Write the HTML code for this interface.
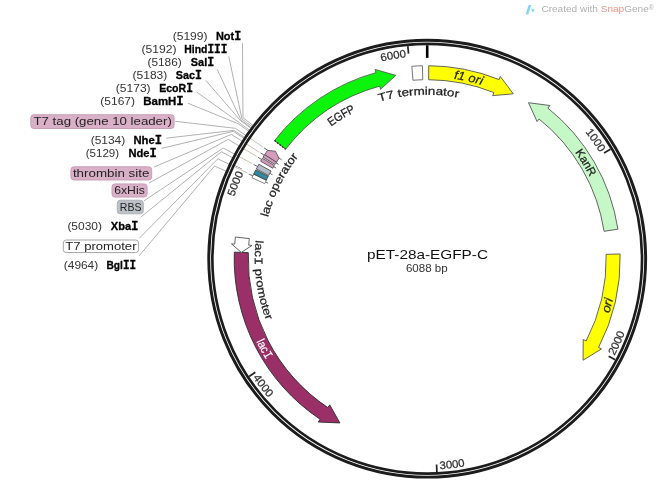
<!DOCTYPE html><html><head><meta charset="utf-8"><title>pET-28a-EGFP-C</title><style>html,body{margin:0;padding:0;background:#fff;width:660px;height:503px;overflow:hidden}svg{display:block;font-family:"Liberation Sans",sans-serif;will-change:transform}</style></head><body><svg width="660" height="503" viewBox="0 0 660 503" font-family="Liberation Sans, sans-serif"><defs><path id="tp1" d="M408.96,57.02 A202.5,202.5 0 0 1 610.98,343.74" fill="none"/><path id="tp2" d="M449.38,468.53 A211.0,211.0 0 0 0 597.83,134.57" fill="none"/><path id="tp3" d="M258.47,385.39 A211.0,211.0 0 0 0 621.28,341.48" fill="none"/><path id="tp4" d="M231.88,178.87 A211.0,211.0 0 0 0 455.72,467.76" fill="none"/><path id="tp5" d="M269.02,385.14 A202.5,202.5 0 0 1 396.79,58.50" fill="none"/><path id="tp6" d="M237.52,187.80 A202.5,202.5 0 0 1 583.45,129.88" fill="none"/><path id="tp7" d="M263.72,261.55 A163.5,163.5 0 0 1 506.47,115.70" fill="none"/><path id="tp8" d="M281.07,184.25 A164.0,164.0 0 0 1 564.74,169.38" fill="none"/><path id="tp9" d="M293.88,134.81 A182.0,182.0 0 0 1 601.15,205.18" fill="none"/><path id="tp10" d="M423.39,76.74 A182.0,182.0 0 0 1 586.69,346.38" fill="none"/><path id="tp11" d="M477.82,441.83 A190.0,190.0 0 0 0 560.49,123.30" fill="none"/><path id="tp12" d="M264.34,160.84 A190.0,190.0 0 0 0 423.88,448.67" fill="none"/><path id="tp13" d="M322.49,121.74 A172.4,172.4 0 0 0 360.95,417.86" fill="none"/><path id="tp14" d="M290.11,349.44 A164.4,164.4 0 0 1 417.16,94.61" fill="none"/></defs><rect width="660" height="503" fill="#fff"/><g stroke="#a8a8a8" stroke-width="0.9" fill="none"><line x1="242.50" y1="43.30" x2="242.97" y2="117.69"/><line x1="242.97" y1="117.69" x2="255.28" y2="127.11"/><line x1="228.75" y1="56.30" x2="241.96" y2="119.02"/><line x1="241.96" y1="119.02" x2="254.33" y2="128.36"/><line x1="217.20" y1="69.40" x2="241.10" y2="120.17"/><line x1="241.10" y1="120.17" x2="253.53" y2="129.43"/><line x1="205.80" y1="80.40" x2="240.67" y2="120.75"/><line x1="240.67" y1="120.75" x2="253.13" y2="129.97"/><line x1="196.40" y1="91.80" x2="239.26" y2="122.68"/><line x1="239.26" y1="122.68" x2="251.81" y2="131.77"/><line x1="187.90" y1="103.20" x2="238.42" y2="123.85"/><line x1="238.42" y1="123.85" x2="251.03" y2="132.86"/><line x1="166.10" y1="138.20" x2="233.93" y2="130.36"/><line x1="233.93" y1="130.36" x2="246.85" y2="138.93"/><line x1="161.40" y1="148.40" x2="233.27" y2="131.35"/><line x1="233.27" y1="131.35" x2="246.23" y2="139.86"/><line x1="140.60" y1="217.30" x2="221.30" y2="151.80"/><line x1="221.30" y1="151.80" x2="235.05" y2="158.94"/><line x1="139.10" y1="255.90" x2="214.50" y2="166.06"/><line x1="214.50" y1="166.06" x2="228.71" y2="172.25"/><line x1="175.30" y1="121.30" x2="235.32" y2="128.30"/><line x1="235.32" y1="128.30" x2="248.14" y2="137.01"/><line x1="154.00" y1="167.00" x2="231.32" y2="134.39"/><line x1="231.32" y1="134.39" x2="244.40" y2="142.69"/><line x1="149.00" y1="183.00" x2="228.23" y2="139.38"/><line x1="228.23" y1="139.38" x2="241.53" y2="147.36"/><line x1="144.00" y1="200.80" x2="223.31" y2="148.00"/><line x1="223.31" y1="148.00" x2="236.94" y2="155.40"/><line x1="139.50" y1="238.00" x2="217.80" y2="158.82"/><line x1="217.80" y1="158.82" x2="231.79" y2="165.49"/></g><line x1="610.46" y1="149.16" x2="604.02" y2="153.01" stroke="#222" stroke-width="1.7"/><line x1="615.24" y1="359.80" x2="608.64" y2="356.25" stroke="#222" stroke-width="1.7"/><line x1="436.89" y1="471.98" x2="436.55" y2="464.49" stroke="#222" stroke-width="1.7"/><line x1="249.10" y1="376.44" x2="255.36" y2="372.31" stroke="#222" stroke-width="1.7"/><line x1="234.76" y1="166.24" x2="241.52" y2="169.48" stroke="#222" stroke-width="1.7"/><line x1="407.84" y1="46.08" x2="408.52" y2="53.55" stroke="#222" stroke-width="1.7"/><line x1="427.20" y1="45.20" x2="427.20" y2="57.90" stroke="#000" stroke-width="2.6"/><text font-size="11" fill="#333" stroke="#333" stroke-width="0.25" font-weight="normal" font-style="normal" textLength="25.5" lengthAdjust="spacingAndGlyphs"><textPath href="#tp1" startOffset="50%" text-anchor="middle">1000</textPath></text><text font-size="11" fill="#333" stroke="#333" stroke-width="0.25" font-weight="normal" font-style="normal" textLength="25.5" lengthAdjust="spacingAndGlyphs"><textPath href="#tp2" startOffset="50%" text-anchor="middle">2000</textPath></text><text font-size="11" fill="#333" stroke="#333" stroke-width="0.25" font-weight="normal" font-style="normal" textLength="25.5" lengthAdjust="spacingAndGlyphs"><textPath href="#tp3" startOffset="50%" text-anchor="middle">3000</textPath></text><text font-size="11" fill="#333" stroke="#333" stroke-width="0.25" font-weight="normal" font-style="normal" textLength="25.5" lengthAdjust="spacingAndGlyphs"><textPath href="#tp4" startOffset="50%" text-anchor="middle">4000</textPath></text><text font-size="11" fill="#333" stroke="#333" stroke-width="0.25" font-weight="normal" font-style="normal" textLength="25.5" lengthAdjust="spacingAndGlyphs"><textPath href="#tp5" startOffset="50%" text-anchor="middle">5000</textPath></text><text font-size="11" fill="#333" stroke="#333" stroke-width="0.25" font-weight="normal" font-style="normal" textLength="25.5" lengthAdjust="spacingAndGlyphs"><textPath href="#tp6" startOffset="50%" text-anchor="middle">6000</textPath></text><g stroke="#ffffff" stroke-width="2.2" fill="none"><line x1="248.14" y1="137.01" x2="262.61" y2="146.85"/><line x1="244.40" y1="142.69" x2="259.18" y2="152.07"/><line x1="241.53" y1="147.36" x2="256.53" y2="156.36"/><line x1="236.94" y1="155.40" x2="252.32" y2="163.75"/><line x1="231.79" y1="165.49" x2="247.59" y2="173.03"/></g><g stroke="#c2bba6" stroke-width="0.9" fill="none"><line x1="248.14" y1="137.01" x2="262.61" y2="146.85"/><line x1="244.40" y1="142.69" x2="259.18" y2="152.07"/><line x1="241.53" y1="147.36" x2="256.53" y2="156.36"/><line x1="236.94" y1="155.40" x2="252.32" y2="163.75"/><line x1="231.79" y1="165.49" x2="247.59" y2="173.03"/></g><circle cx="427.2" cy="258.7" r="218.45" fill="none" stroke="#1c1c1c" stroke-width="2.9"/><circle cx="427.2" cy="258.7" r="214.85" fill="none" stroke="#1c1c1c" stroke-width="2.65"/><path d="M274.55,140.60 A193.0,193.0 0 0 1 375.95,72.63 L375.08,69.45 L395.86,75.36 L380.55,89.31 L379.67,86.13 A179.0,179.0 0 0 0 285.62,149.17 Z" fill="#0cf30c" stroke="#4d4d4d" stroke-width="0.8" stroke-linejoin="miter" /><line x1="274.55" y1="140.60" x2="285.62" y2="149.17" stroke="#222" stroke-width="1.3" stroke-dasharray="1.6,1.6"/><path d="M411.86,66.31 A193.0,193.0 0 0 1 422.42,65.76 L422.76,79.75 A179.0,179.0 0 0 0 412.97,80.27 Z" fill="#ffffff" stroke="#666" stroke-width="0.9"/><path d="M428.72,65.71 A193.0,193.0 0 0 1 499.10,79.59 L500.33,76.53 L513.29,93.82 L492.65,95.65 L493.88,92.58 A179.0,179.0 0 0 0 428.61,79.71 Z" fill="#ffff00" stroke="#555" stroke-width="0.9" stroke-linejoin="miter" /><path d="M617.93,229.17 A193.0,193.0 0 0 0 547.87,108.07 L549.93,105.50 L528.50,102.71 L537.05,121.58 L539.12,119.00 A179.0,179.0 0 0 1 604.09,231.32 Z" fill="#c6f7c6" stroke="#555" stroke-width="0.9" stroke-linejoin="miter" /><path d="M620.14,253.98 A193.0,193.0 0 0 1 598.59,347.43 L601.52,348.95 L583.07,360.19 L583.23,339.48 L586.16,341.00 A179.0,179.0 0 0 0 606.15,254.33 Z" fill="#ffff00" stroke="#555" stroke-width="0.9" stroke-linejoin="miter" /><path d="M234.31,252.17 A193.0,193.0 0 0 0 320.12,419.27 L318.29,422.01 L339.88,422.93 L329.72,404.88 L327.89,407.62 A179.0,179.0 0 0 1 248.30,252.64 Z" fill="#9b2f67" stroke="#2a2a2a" stroke-width="0.9" stroke-linejoin="miter" /><path d="M235.42,237.02 A193.0,193.0 0 0 0 234.75,244.09 L231.46,243.84 L241.31,252.40 L252.00,245.40 L248.71,245.15 A179.0,179.0 0 0 1 249.33,238.59 Z" fill="#ffffff" stroke="#555" stroke-width="0.9" stroke-linejoin="miter" /><line x1="257.82" y1="157.13" x2="276.26" y2="168.18" stroke="#444" stroke-width="0.8"/><line x1="260.45" y1="152.87" x2="278.60" y2="164.39" stroke="#444" stroke-width="0.8"/><line x1="263.85" y1="147.69" x2="281.63" y2="159.77" stroke="#444" stroke-width="0.8"/><line x1="253.63" y1="164.46" x2="272.53" y2="174.72" stroke="#444" stroke-width="0.8"/><line x1="248.79" y1="173.99" x2="268.21" y2="183.21" stroke="#444" stroke-width="0.8"/><path d="M252.00,177.75 A193.0,193.0 0 0 1 253.73,174.09 L266.32,180.23 A179.0,179.0 0 0 0 264.71,183.62 Z" fill="#ffffff" stroke="#777" stroke-width="0.9"/><path d="M253.73,174.09 A193.0,193.0 0 0 1 255.85,169.88 L268.28,176.32 A179.0,179.0 0 0 0 266.32,180.23 Z" fill="#2f8aa0" stroke="#444" stroke-width="0.9"/><path d="M256.32,168.99 A193.0,193.0 0 0 1 258.89,164.25 L271.10,171.10 A179.0,179.0 0 0 0 268.71,175.49 Z" fill="#b3bcc6" stroke="#555" stroke-width="0.9"/><path d="M260.65,161.18 A193.0,193.0 0 0 1 262.38,158.29 L274.33,165.57 A179.0,179.0 0 0 0 272.73,168.25 Z" fill="#d49bbd" stroke="#555" stroke-width="0.9"/><path d="M263.08,157.14 A193.0,193.0 0 0 1 264.70,154.58 L276.49,162.13 A179.0,179.0 0 0 0 274.99,164.51 Z" fill="#d49bbd" stroke="#555" stroke-width="0.9"/><path d="M264.70,154.58 A193.0,193.0 0 0 1 267.44,150.41 L275.40,151.22 L279.03,158.27 A179.0,179.0 0 0 0 276.49,162.13 Z" fill="#d49bbd" stroke="#555" stroke-width="0.9"/><text font-size="12" fill="#222" stroke="#222" stroke-width="0.25" font-weight="normal" font-style="normal" textLength="29" lengthAdjust="spacingAndGlyphs"><textPath href="#tp7" startOffset="50%" text-anchor="middle">EGFP</textPath></text><text font-size="11.2" fill="#222" stroke="#222" stroke-width="0.25" font-weight="normal" font-style="normal" textLength="80" lengthAdjust="spacingAndGlyphs"><textPath href="#tp8" startOffset="50%" text-anchor="middle">T7 terminator</textPath></text><text font-size="12" fill="#222" stroke="#222" stroke-width="0.25" font-weight="normal" font-style="italic" textLength="28.5" lengthAdjust="spacingAndGlyphs"><textPath href="#tp9" startOffset="50%" text-anchor="middle">f1 ori</textPath></text><text font-size="11.5" fill="#222" stroke="#222" stroke-width="0.25" font-weight="normal" font-style="normal" textLength="29" lengthAdjust="spacingAndGlyphs"><textPath href="#tp10" startOffset="50%" text-anchor="middle">KanR</textPath></text><text font-size="12" fill="#222" stroke="#222" stroke-width="0.25" font-weight="normal" font-style="italic" textLength="14.8" lengthAdjust="spacingAndGlyphs"><textPath href="#tp11" startOffset="50%" text-anchor="middle">ori</textPath></text><text font-size="12" fill="#ffffff" stroke="#ffffff" stroke-width="0.15" font-weight="normal" font-style="normal" textLength="21" lengthAdjust="spacingAndGlyphs"><textPath href="#tp12" startOffset="50%" text-anchor="middle">lac<tspan font-family="Liberation Mono" font-size="12.6">I</tspan></textPath></text><text font-size="11" fill="#222" stroke="#222" stroke-width="0.25" font-weight="normal" font-style="normal" textLength="81.8" lengthAdjust="spacingAndGlyphs"><textPath href="#tp13" startOffset="50%" text-anchor="middle">lac<tspan font-family="Liberation Mono" font-size="11.6">I</tspan> promoter</textPath></text><text font-size="11.4" fill="#222" stroke="#222" stroke-width="0.25" font-weight="normal" font-style="normal" textLength="68.3" lengthAdjust="spacingAndGlyphs"><textPath href="#tp14" startOffset="50%" text-anchor="middle">lac operator</textPath></text><text x="427.5" y="258.8" font-size="13.6" text-anchor="middle" fill="#111" textLength="121" lengthAdjust="spacingAndGlyphs">pET-28a-EGFP-C</text><text x="426.8" y="272.2" font-size="10" text-anchor="middle" fill="#333" textLength="41.8" lengthAdjust="spacingAndGlyphs">6088 bp</text><text x="172.7" y="40.2" font-size="10.2" fill="#333" textLength="34.80" lengthAdjust="spacingAndGlyphs">(5199)</text><text x="215.9" y="40.2" font-size="11.2" font-weight="bold" fill="#000" stroke="#000" stroke-width="0.3" textLength="25.30" lengthAdjust="spacingAndGlyphs">Not<tspan font-family="Liberation Mono" font-size="12.0">I</tspan></text><text x="141.5" y="53.0" font-size="10.2" fill="#333" textLength="35.00" lengthAdjust="spacingAndGlyphs">(5192)</text><text x="184.3" y="53.0" font-size="11.2" font-weight="bold" fill="#000" stroke="#000" stroke-width="0.3" textLength="43.20" lengthAdjust="spacingAndGlyphs">Hind<tspan font-family="Liberation Mono" font-size="12.0">I</tspan><tspan font-family="Liberation Mono" font-size="12.0">I</tspan><tspan font-family="Liberation Mono" font-size="12.0">I</tspan></text><text x="147.5" y="66.0" font-size="10.2" fill="#333" textLength="34.20" lengthAdjust="spacingAndGlyphs">(5186)</text><text x="190.8" y="66.0" font-size="11.2" font-weight="bold" fill="#000" stroke="#000" stroke-width="0.3" textLength="23.40" lengthAdjust="spacingAndGlyphs">Sal<tspan font-family="Liberation Mono" font-size="12.0">I</tspan></text><text x="132.5" y="78.8" font-size="10.2" fill="#333" textLength="34.80" lengthAdjust="spacingAndGlyphs">(5183)</text><text x="175.8" y="78.8" font-size="11.2" font-weight="bold" fill="#000" stroke="#000" stroke-width="0.3" textLength="26.20" lengthAdjust="spacingAndGlyphs">Sac<tspan font-family="Liberation Mono" font-size="12.0">I</tspan></text><text x="115.8" y="91.9" font-size="10.2" fill="#333" textLength="34.80" lengthAdjust="spacingAndGlyphs">(5173)</text><text x="159.2" y="91.9" font-size="11.2" font-weight="bold" fill="#000" stroke="#000" stroke-width="0.3" textLength="33.80" lengthAdjust="spacingAndGlyphs">EcoR<tspan font-family="Liberation Mono" font-size="12.0">I</tspan></text><text x="100.3" y="104.7" font-size="10.2" fill="#333" textLength="34.70" lengthAdjust="spacingAndGlyphs">(5167)</text><text x="143.3" y="104.7" font-size="11.2" font-weight="bold" fill="#000" stroke="#000" stroke-width="0.3" textLength="40.40" lengthAdjust="spacingAndGlyphs">BamH<tspan font-family="Liberation Mono" font-size="12.0">I</tspan></text><text x="90.7" y="144.3" font-size="10.2" fill="#333" textLength="34.50" lengthAdjust="spacingAndGlyphs">(5134)</text><text x="133.4" y="144.3" font-size="11.2" font-weight="bold" fill="#000" stroke="#000" stroke-width="0.3" textLength="28.60" lengthAdjust="spacingAndGlyphs">Nhe<tspan font-family="Liberation Mono" font-size="12.0">I</tspan></text><text x="85.7" y="156.6" font-size="10.2" fill="#333" textLength="33.40" lengthAdjust="spacingAndGlyphs">(5129)</text><text x="128.4" y="156.6" font-size="11.2" font-weight="bold" fill="#000" stroke="#000" stroke-width="0.3" textLength="28.20" lengthAdjust="spacingAndGlyphs">Nde<tspan font-family="Liberation Mono" font-size="12.0">I</tspan></text><text x="67.4" y="230.2" font-size="10.2" fill="#333" textLength="34.60" lengthAdjust="spacingAndGlyphs">(5030)</text><text x="110.8" y="230.2" font-size="11.2" font-weight="bold" fill="#000" stroke="#000" stroke-width="0.3" textLength="27.50" lengthAdjust="spacingAndGlyphs">Xba<tspan font-family="Liberation Mono" font-size="12.0">I</tspan></text><text x="63.8" y="268.8" font-size="10.2" fill="#333" textLength="34.40" lengthAdjust="spacingAndGlyphs">(4964)</text><text x="106.5" y="268.8" font-size="11.2" font-weight="bold" fill="#000" stroke="#000" stroke-width="0.3" textLength="29.60" lengthAdjust="spacingAndGlyphs">Bgl<tspan font-family="Liberation Mono" font-size="12.0">I</tspan><tspan font-family="Liberation Mono" font-size="12.0">I</tspan></text><rect x="30.8" y="114.7" width="143.30" height="13.80" rx="3" ry="3" fill="#d9b0c7" stroke="#c49bb3" stroke-width="0.9"/><text x="33.5" y="124.7" font-size="11.6" fill="#222" textLength="138.30" lengthAdjust="spacingAndGlyphs">T7 tag (gene 10 leader)</text><rect x="70.9" y="166.8" width="80.80" height="13.20" rx="3" ry="3" fill="#d9b0c7" stroke="#c49bb3" stroke-width="0.9"/><text x="72.9" y="176.7" font-size="11.6" fill="#222" textLength="76.50" lengthAdjust="spacingAndGlyphs">thrombin site</text><rect x="112.0" y="183.9" width="35.10" height="13.20" rx="3" ry="3" fill="#d9b0c7" stroke="#c49bb3" stroke-width="0.9"/><text x="114.2" y="193.6" font-size="11.6" fill="#222" textLength="30.60" lengthAdjust="spacingAndGlyphs">6xHis</text><rect x="117.3" y="200.2" width="26.00" height="13.60" rx="3" ry="3" fill="#bcc1c7" stroke="#a5abb2" stroke-width="0.9"/><text x="119.8" y="210.5" font-size="11.6" fill="#222" textLength="21.70" lengthAdjust="spacingAndGlyphs">RBS</text><rect x="63.3" y="240.0" width="75.30" height="12.60" rx="3" ry="3" fill="#ffffff" stroke="#9a9a9a" stroke-width="0.9"/><text x="65.3" y="249.5" font-size="11.6" fill="#222" textLength="71.20" lengthAdjust="spacingAndGlyphs">T7 promoter</text><path d="M525.6,14.6 L528.6,4.9 L531.2,4.9 L528.4,14.2 Z M531.2,8.6 L535.0,9.8 L532.6,12.8 Z" fill="#86d4ef"/><text x="541.4" y="12.4" font-size="9.5" fill="#b0b0b0" textLength="112.5" lengthAdjust="spacingAndGlyphs">Created with <tspan fill="#e9968c">Snap</tspan>Gene<tspan font-size="6.5" dy="-2.2">®</tspan></text></svg></body></html>
